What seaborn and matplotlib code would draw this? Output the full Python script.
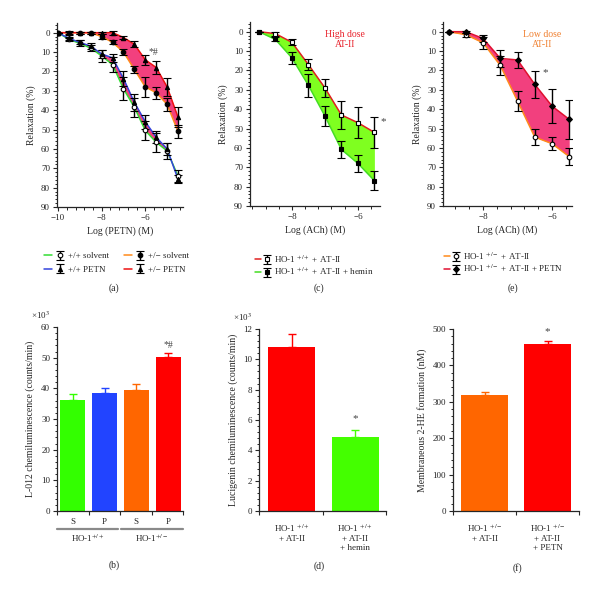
import numpy as np
import pandas as pd
import matplotlib
matplotlib.use("Agg")
import matplotlib.pyplot as plt
import seaborn as sns
from matplotlib.ticker import MultipleLocator, FixedLocator, NullFormatter
from matplotlib.legend_handler import HandlerTuple
import matplotlib.transforms as mtrans

# ---------------- data ----------------
log_petn = [-10, -9.5, -9, -8.5, -8, -7.5, -7, -6.5, -6, -5.5, -5, -4.5]
a_wt_solvent = [0, 3.5, 5.5, 8, 12, 16.5, 29, 38.5, 50.5, 56.6, 61, 74]
a_wt_solvent_err = [0, 1, 1.5, 1.5, 3, 4, 6, 5, 5, 5, 4, 3]
a_wt_petn = [0, 3, 5, 7, 11, 13, 23.7, 36, 46, 54, 60, 75.6]
a_wt_petn_err = [0, 1, 1, 1.5, 2, 2, 4, 4.5, 3.5, 3, 3, 2]
a_het_solvent = [0, 0, 0, 0, 2, 5, 10, 19, 28, 31, 37, 51]
a_het_solvent_err = [0, 1, 0.5, 0.5, 1.5, 1, 1.5, 2, 5, 3, 3.5, 3.5]
a_het_petn = [0, 0, 0, 0, 0, 0, 2.5, 6, 14, 18, 28, 43.6]
a_het_petn_err = [0, 0.5, 0.5, 0.5, 0.5, 1, 1, 1.5, 2.5, 3.5, 4.5, 5]

log_ach = [-9, -8.5, -8, -7.5, -7, -6.5, -6, -5.5]
c_atii = [0, 1, 5.5, 17, 29, 43, 47, 52]
c_atii_err = [0, 1, 1.5, 3, 4.5, 7, 8, 8]
c_hemin = [0, 4, 13.5, 27.7, 43.5, 60.8, 68, 76.9]
c_hemin_err = [0, 1, 3, 6, 5, 4.5, 4.5, 5]

e_atii = [0, 1.5, 5.7, 17.4, 35.8, 54.4, 57.8, 64.5]
e_atii_err = [0, 1, 3, 5, 5, 4, 3.5, 4.5]
e_petn = [0, 0, 3.5, 13.8, 14.6, 27.2, 38.4, 45.3]
e_petn_err = [0, 0.5, 2, 4.5, 4, 7, 9, 10]

b_cats = ["+/+ S", "+/+ P", "+/- S", "+/- P"]
b_ticklabels = ["S", "P", "S", "P"]
b_vals = [36.2, 38.6, 39.6, 50.2]
b_err = [2.0, 1.6, 1.9, 1.3]

d_cats = ["HO-1 $^{+/+}$\n+ AT-II", "HO-1 $^{+/+}$\n+ AT-II\n+ hemin"]
d_vals = [10.83, 4.9]
d_err = [0.82, 0.44]

f_cats = ["HO-1 $^{+/-}$\n+ AT-II", "HO-1 $^{+/-}$\n+ AT-II\n+ PETN"]
f_vals = [320, 460]
f_err = [8, 6]

# ---------------- style ----------------
sns.set_style("ticks")
plt.rcParams["font.family"] = ["Liberation Serif", "DejaVu Serif"]
plt.rcParams["mathtext.fontset"] = "stix"
plt.rcParams["axes.linewidth"] = 0.9

FS_TICK = 6.5
FS_LAB = 7

PINK = "#F2407E"
LGREEN = "#7FFF20"

fig = plt.figure(figsize=(6, 5.91), dpi=100)


def axrect(l, r, t, b):
    return fig.add_axes([l / 600, 1 - b / 591, (r - l) / 600, (b - t) / 591])


axA = axrect(57, 183, 23, 207)
axC = axrect(250, 380, 22, 206)
axE = axrect(443, 572, 22, 206)
axB = axrect(57, 183, 327, 511)
axD = axrect(259, 386, 329, 511)
axF = axrect(453, 579, 329, 511)


def style_ax(ax):
    sns.despine(ax=ax)
    ax.tick_params(which="major", labelsize=FS_TICK, length=3, width=0.8, pad=2)
    ax.tick_params(which="minor", length=1.8, width=0.7)


def curve(ax, x, y, err, lc, marker, mfc, ms=3.3):
    sns.lineplot(x=x, y=y, color=lc, lw=1.1, ax=ax, zorder=3)
    line = ax.lines[-1]
    cont = ax.errorbar(x, y, yerr=err, fmt=marker, ms=ms, mfc=mfc, mec="black",
                       mew=0.8, ecolor="black", elinewidth=1.0, capsize=2.6,
                       capthick=1.0, zorder=4)
    return (line, cont)


def curve_axis(ax, xlim, xticks, xlabel):
    ax.set_ylim(90, -5)
    ax.set_xlim(*xlim)
    ax.yaxis.set_major_locator(MultipleLocator(10))
    ax.yaxis.set_minor_locator(MultipleLocator(2))
    ax.xaxis.set_major_locator(FixedLocator(xticks))
    ax.xaxis.set_minor_locator(MultipleLocator(0.4))
    ax.set_xlabel(xlabel, fontsize=FS_LAB, labelpad=3)
    ax.set_ylabel("Relaxation (%)", fontsize=FS_LAB, labelpad=4)
    style_ax(ax)


# ---------------- (a) ----------------
axA.fill_between(log_petn, a_het_solvent, a_het_petn, color=PINK, lw=0, zorder=1)
axA.fill_between(log_petn, a_wt_solvent, a_wt_petn, color=PINK, lw=0, zorder=1)
hA1 = curve(axA, log_petn, a_wt_solvent, a_wt_solvent_err, "#33dd33", "o", "white")
hA2 = curve(axA, log_petn, a_wt_petn, a_wt_petn_err, "#3344dd", "^", "black", 3.1)
hA3 = curve(axA, log_petn, a_het_solvent, a_het_solvent_err, "#ff8a1a", "o", "black")
hA4 = curve(axA, log_petn, a_het_petn, a_het_petn_err, "#ee1111", "^", "black", 3.1)
curve_axis(axA, (-10.05, -4.27), [-10, -8, -6], "Log (PETN) (M)")
axA.text(-5.62, 10, "*#", fontsize=7, color="#444444", ha="center", va="center")
fig.legend([hA1, hA2, hA3, hA4],
           ["+/+ solvent", "+/+ PETN", "+/\u2212 solvent", "+/\u2212 PETN"],
           loc="upper left", bbox_to_anchor=(36 / 600, 1 - 244 / 591), ncol=2,
           frameon=False, fontsize=6.5, handlelength=2.2, columnspacing=1.6,
           labelspacing=0.55, handletextpad=0.5,
           handler_map={tuple: HandlerTuple(ndivide=None)})
fig.text(114 / 600, 1 - 288 / 591, "(a)", fontsize=FS_LAB, ha="center", va="center")

# ---------------- (c) ----------------
axC.fill_between(log_ach, c_atii, c_hemin, color=LGREEN, lw=0, zorder=1)
hC1 = curve(axC, log_ach, c_atii, c_atii_err, "#e02020", "s", "white")
hC2 = curve(axC, log_ach, c_hemin, c_hemin_err, "#44dd22", "s", "black")
curve_axis(axC, (-9.27, -5.33), [-8, -6], "Log (ACh) (M)")
axC.text(-6.4, 4, "High dose\nAT-II", fontsize=7, color="#e8202a", ha="center",
         va="center", linespacing=1.05)
axC.text(-5.22, 46.5, "*", fontsize=8, color="#444444", ha="center", va="center")
fig.legend([hC1, hC2],
           ["HO-1 $^{+/+}$ + AT-II", "HO-1 $^{+/+}$ + AT-II + hemin"],
           loc="upper left", bbox_to_anchor=(247 / 600, 1 - 245 / 591), ncol=1,
           frameon=False, fontsize=6.5, handlelength=1.6, labelspacing=0.15,
           handletextpad=0.5, handler_map={tuple: HandlerTuple(ndivide=None)})
fig.text(319 / 600, 1 - 288 / 591, "(c)", fontsize=FS_LAB, ha="center", va="center")

# ---------------- (e) ----------------
axE.fill_between(log_ach, e_atii, e_petn, color=PINK, lw=0, zorder=1)
hE1 = curve(axE, log_ach, e_atii, e_atii_err, "#ff8a1a", "o", "white")
hE2 = curve(axE, log_ach, e_petn, e_petn_err, "#e01030", "D", "black", 3.0)
curve_axis(axE, (-9.16, -5.42), [-8, -6], "Log (ACh) (M)")
axE.text(-6.28, 4, "Low dose\nAT-II", fontsize=7, color="#f08030", ha="center",
         va="center", linespacing=1.05)
axE.text(-6.19, 21, "*", fontsize=8, color="#444444", ha="center", va="center")
fig.legend([hE1, hE2],
           ["HO-1 $^{+/-}$ + AT-II", "HO-1 $^{+/-}$ + AT-II + PETN"],
           loc="upper left", bbox_to_anchor=(436 / 600, 1 - 242 / 591), ncol=1,
           frameon=False, fontsize=6.5, handlelength=1.6, labelspacing=0.15,
           handletextpad=0.5, handler_map={tuple: HandlerTuple(ndivide=None)})
fig.text(513 / 600, 1 - 288 / 591, "(e)", fontsize=FS_LAB, ha="center", va="center")


# ---------------- bar panels ----------------
def bars(ax, cats, vals, errs, colors, width):
    df = pd.DataFrame({"cat": cats, "val": vals})
    sns.barplot(data=df, x="cat", y="val", hue="cat", palette=colors, legend=False,
                width=width, linewidth=0, ax=ax, errorbar=None, saturation=1,
                zorder=2)
    for i, (v, e, c) in enumerate(zip(vals, errs, colors)):
        ax.errorbar(i, v, yerr=[[0], [e]], color=c, elinewidth=1.0, capsize=3,
                    capthick=1.0, zorder=1)
    ax.set_xlabel("")
    style_ax(ax)


# (b)
b_colors = ["#33ff00", "#2244ff", "#ff6600", "#ff0000"]
bars(axB, b_cats, b_vals, b_err, b_colors, 0.79)
axB.set_xlim(-0.5, 3.47)
axB.set_ylim(0, 60)
axB.yaxis.set_major_locator(MultipleLocator(10))
axB.yaxis.set_minor_locator(MultipleLocator(2))
axB.xaxis.set_major_locator(FixedLocator([-0.5, 0.5, 1.5, 2.5, 3.47]))
axB.xaxis.set_major_formatter(NullFormatter())
axB.xaxis.set_minor_locator(FixedLocator([0, 1, 2, 3]))
axB.set_xticks([0, 1, 2, 3], b_ticklabels, minor=True)
axB.tick_params(axis="x", which="minor", length=0, labelsize=FS_TICK, pad=5)
axB.set_ylabel("L-012 chemiluminescence (counts/min)", fontsize=FS_LAB, labelpad=4)
axB.text(3, 54, "*#", fontsize=7, color="#444444", ha="center", va="center")
trB = mtrans.blended_transform_factory(axB.transData, axB.transAxes)
for x0, x1, lab in [(-0.5, 1.42, "HO-1$^{+/+}$"), (1.52, 3.47, "HO-1$^{+/-}$")]:
    axB.plot([x0, x1], [-0.098, -0.098], color="#8a8a8a", lw=1.6,
             transform=trB, clip_on=False)
    axB.text((x0 + x1) / 2, -0.115, lab, transform=trB, fontsize=FS_TICK,
             ha="center", va="top")
fig.text(40 / 600, 1 - 315 / 591, "\u00d710$^3$", fontsize=FS_TICK, ha="center",
         va="center")
fig.text(114 / 600, 1 - 565 / 591, "(b)", fontsize=FS_LAB, ha="center", va="center")

# (d)
bars(axD, d_cats, d_vals, d_err, ["#ff0000", "#44ff00"], 0.73)
axD.set_xlim(-0.51, 1.48)
axD.set_ylim(0, 12)
axD.yaxis.set_major_locator(MultipleLocator(2))
axD.yaxis.set_minor_locator(MultipleLocator(0.4))
axD.xaxis.set_major_locator(FixedLocator([-0.51, 0.5, 1.48]))
axD.xaxis.set_major_formatter(NullFormatter())
axD.set_xticks([0, 1], d_cats, minor=True)
axD.tick_params(axis="x", which="minor", length=0, labelsize=FS_TICK, pad=8)
axD.set_ylabel("Lucigenin chemiluminescence (counts/min)", fontsize=FS_LAB,
               labelpad=4)
axD.text(1, 6.1, "*", fontsize=8, color="#444444", ha="center", va="center")
fig.text(242 / 600, 1 - 317 / 591, "\u00d710$^3$", fontsize=FS_TICK, ha="center",
         va="center")
fig.text(319 / 600, 1 - 566 / 591, "(d)", fontsize=FS_LAB, ha="center", va="center")

# (f)
bars(axF, f_cats, f_vals, f_err, ["#ff6600", "#ff0000"], 0.75)
axF.set_xlim(-0.5, 1.5)
axF.set_ylim(0, 500)
axF.yaxis.set_major_locator(MultipleLocator(100))
axF.yaxis.set_minor_locator(MultipleLocator(20))
axF.xaxis.set_major_locator(FixedLocator([-0.5, 0.5, 1.5]))
axF.xaxis.set_major_formatter(NullFormatter())
axF.set_xticks([0, 1], f_cats, minor=True)
axF.tick_params(axis="x", which="minor", length=0, labelsize=FS_TICK, pad=8)
axF.set_ylabel("Membraneous 2-HE formation (nM)", fontsize=FS_LAB, labelpad=4)
axF.text(1, 494, "*", fontsize=8, color="#444444", ha="center", va="center")
fig.text(517 / 600, 1 - 568 / 591, "(f)", fontsize=FS_LAB, ha="center", va="center")

fig.savefig("out.png", dpi=100)
